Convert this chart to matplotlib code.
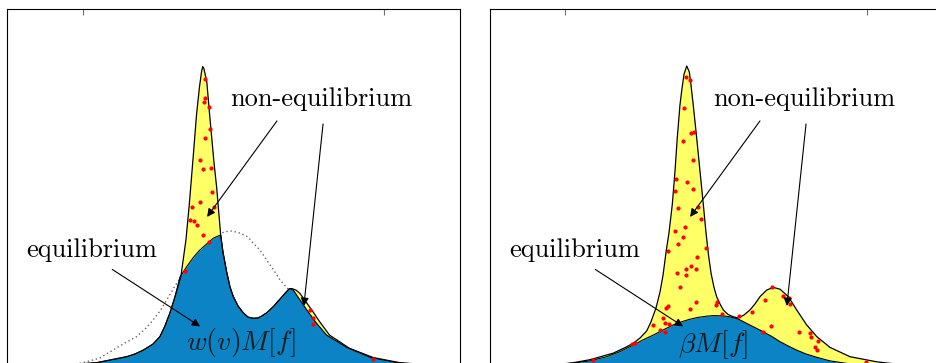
import numpy as np
import matplotlib.pyplot as plt

plt.rcParams['mathtext.fontset'] = 'cm'

YELLOW = '#ffff66'
BLUE = '#0b83c5'

# ---- left panel: f, Maxwellian M and the weighted part w(v)M[f]
x_f1 = [-1.5, -1.149, -0.906, -0.707, -0.652, -0.597, -0.533, -0.487, -0.454, -0.421,
        -0.387, -0.348, -0.315,
        -0.293, -0.266, -0.245, -0.226, -0.212, -0.204, -0.197, -0.177, -0.162, -0.144,
        -0.129, -0.111, -0.099, -0.085, -0.070, -0.045, -0.023, -0.001, 0.030, 0.065,
        0.096, 0.131, 0.162, 0.189, 0.222, 0.264, 0.308, 0.352, 0.371, 0.387,
        0.414, 0.440, 0.518, 0.570, 0.636, 0.768, 0.926, 1.103, 1.235, 1.401, 1.5]
f1 = [0.0, 0.002, 0.011, 0.031, 0.040, 0.053, 0.073, 0.098, 0.133, 0.177,
      0.231, 0.300, 0.420,
      0.537, 0.703, 0.837, 0.927, 0.980, 0.998, 0.993, 0.948, 0.860, 0.760,
      0.677, 0.593, 0.520, 0.437, 0.380, 0.313, 0.263, 0.231, 0.200, 0.177,
      0.163, 0.159, 0.160, 0.167, 0.178, 0.198, 0.223, 0.248, 0.258, 0.258,
      0.253, 0.242, 0.187, 0.148, 0.103, 0.059, 0.028, 0.011, 0.006, 0.002, 0.0]

x_w1 = [-1.5, -1.149, -0.906, -0.707, -0.652, -0.597, -0.533, -0.487, -0.454, -0.421,
        -0.387, -0.354, -0.310,
        -0.266, -0.222, -0.177, -0.134, -0.085, -0.070, -0.045, -0.023, -0.001, 0.030,
        0.065, 0.096, 0.131, 0.162, 0.189, 0.222, 0.264, 0.308, 0.352, 0.371,
        0.396, 0.485, 0.551, 0.617, 0.750, 0.904, 1.081, 1.301, 1.5]
w1 = [0.0, 0.002, 0.011, 0.031, 0.040, 0.053, 0.073, 0.098, 0.133, 0.177,
      0.231, 0.297, 0.331,
      0.362, 0.387, 0.407, 0.426, 0.437, 0.380, 0.313, 0.263, 0.231, 0.200,
      0.177, 0.163, 0.159, 0.160, 0.167, 0.178, 0.198, 0.223, 0.248, 0.258,
      0.253, 0.187, 0.142, 0.103, 0.062, 0.029, 0.011, 0.003, 0.0]

x_m1 = [-1.5, -1.281, -1.084, -0.972, -0.884, -0.798, -0.719, -0.641, -0.586, -0.533,
        -0.487, -0.442, -0.387, -0.321, -0.255, -0.189, -0.123, -0.056, -0.010, 0.043,
        0.096, 0.129, 0.175, 0.220, 0.262, 0.308, 0.361, 0.407, 0.473, 0.573,
        0.705, 0.838, 0.970, 1.169, 1.5]
m1 = [0.0, 0.0, 0.003, 0.014, 0.027, 0.053, 0.077, 0.098, 0.123, 0.153,
      0.183, 0.220, 0.267, 0.320, 0.367, 0.407, 0.433, 0.448, 0.450, 0.443,
      0.430, 0.410, 0.387, 0.353, 0.323, 0.287, 0.257, 0.227, 0.173, 0.107,
      0.053, 0.023, 0.010, 0.002, 0.0]

dots1_x = [-0.189, -0.191, -0.195, -0.164, -0.158, -0.191, -0.224, -0.204, -0.151, -0.140,
           -0.220, -0.277, -0.129, -0.286, -0.264, -0.244, -0.200, -0.160, -0.323,
           0.507, 0.525, 0.528, 0.926]
dots1_y = [0.957, 0.894, 0.880, 0.864, 0.791, 0.761, 0.687, 0.658, 0.661, 0.580,
           0.548, 0.529, 0.531, 0.487, 0.484, 0.469, 0.437, 0.414, 0.318,
           0.187, 0.161, 0.139, 0.023]

# ---- right panel: f and beta*M[f]
x_f2 = [-1.5, -1.301, -1.103, -0.948, -0.838, -0.683, -0.599, -0.551, -0.507, -0.462,
        -0.434, -0.401, -0.374, -0.354, -0.334, -0.315, -0.293, -0.275, -0.260, -0.242,
        -0.228, -0.215, -0.197, -0.180, -0.169, -0.154, -0.131, -0.109, -0.087, -0.070,
        -0.053, -0.036, -0.017, 0.001, 0.023, 0.045, 0.076, 0.111, 0.144, 0.182,
        0.222, 0.255, 0.288, 0.332, 0.376, 0.421, 0.476, 0.531, 0.597, 0.664,
        0.752, 0.884, 1.061, 1.215, 1.5]
f2 = [0.0, 0.001, 0.002, 0.011, 0.021, 0.043, 0.063, 0.076, 0.093, 0.117,
      0.147, 0.193, 0.247, 0.303, 0.380, 0.443, 0.537, 0.648, 0.759, 0.870,
      0.927, 0.973, 1.000, 0.980, 0.937, 0.870, 0.759, 0.648, 0.537, 0.447,
      0.370, 0.309, 0.263, 0.231, 0.207, 0.187, 0.172, 0.164, 0.160, 0.170,
      0.187, 0.207, 0.231, 0.253, 0.262, 0.256, 0.231, 0.187, 0.137, 0.098,
      0.062, 0.031, 0.014, 0.005, 0.0]

x_b2 = [-1.5, -1.136, -1.036, -0.948, -0.838, -0.727, -0.639, -0.551, -0.487, -0.419,
        -0.354, -0.286, -0.228, -0.175, -0.123, -0.065, -0.021, 0.045, 0.089, 0.142,
        0.200, 0.255, 0.310, 0.368, 0.421, 0.474, 0.531, 0.593, 0.664, 0.752,
        0.884, 1.017, 1.5]
b2 = [0.0, 0.001, 0.005, 0.010, 0.017, 0.031, 0.048, 0.070, 0.087, 0.103,
      0.120, 0.137, 0.148, 0.156, 0.162, 0.166, 0.168, 0.167, 0.164, 0.157,
      0.142, 0.128, 0.114, 0.098, 0.081, 0.067, 0.053, 0.040, 0.029, 0.017,
      0.007, 0.002, 0.0]

dots2_x = [-0.204, -0.175, -0.213, -0.169, -0.147, -0.222, -0.156, -0.270, -0.193, -0.277,
           -0.156, -0.257, -0.123, -0.101, -0.209, -0.275, -0.224, -0.253, -0.072, -0.319,
           -0.127, -0.204, -0.167, -0.138, -0.260, -0.202, -0.244, -0.136, 0.005, -0.003,
           -0.319, -0.334, -0.174, 0.034, 0.147, 0.235, 0.321, 0.366, 0.438, 0.482,
           0.487, -0.423, -0.352, -0.343, -0.317, -0.372, -0.339, 0.310, 0.359, 0.544,
           0.619, 0.624, 0.672, 0.650, 0.664, -0.558, -0.540, -0.816, 0.988]
dots2_y = [0.964, 0.953, 0.859, 0.778, 0.781, 0.750, 0.687, 0.623, 0.613, 0.584,
           0.590, 0.528, 0.529, 0.490, 0.463, 0.451, 0.429, 0.406, 0.392, 0.383,
           0.362, 0.322, 0.334, 0.322, 0.310, 0.302, 0.262, 0.212, 0.212, 0.202,
           0.201, 0.192, 0.189, 0.173, 0.166, 0.180, 0.221, 0.264, 0.233, 0.228,
           0.207, 0.137, 0.159, 0.142, 0.139, 0.120, 0.113, 0.114, 0.134, 0.112,
           0.109, 0.098, 0.083, 0.064, 0.052, 0.073, 0.076, 0.020, 0.012]

labels = ['non-equilibrium', 'equilibrium']


def setup(ax):
    ax.set_xlim(-1.5, 1.5)
    ax.set_ylim(-0.05, 1.19)
    ax.set_xticks([-1, 1])
    ax.set_yticks([])
    ax.tick_params(axis='x', direction='in', top=True, bottom=True,
                   labelbottom=False, length=4, width=0.8, color='0.45')
    for s in ax.spines.values():
        s.set_linewidth(0.8)


def annotate(ax, eq_label):
    ax.text(-0.025, 0.867, labels[0], fontfamily='cmr10', fontsize=19, va='baseline')
    ax.text(-1.374, 0.364, labels[1], fontfamily='cmr10', fontsize=19, va='baseline')
    arrows = [((0.288, 0.817), (-0.175, 0.497)),
              ((0.593, 0.807), (0.466, 0.200)),
              ((-0.803, 0.322), (-0.221, 0.132))]
    for start, end in arrows:
        ax.annotate('', xy=end, xytext=start,
                    arrowprops=dict(arrowstyle='-|>', lw=0.8, color='k',
                                    shrinkA=0, shrinkB=0, mutation_scale=12),
                    zorder=6)
    ax.text(eq_label[1], eq_label[2], eq_label[0], fontsize=20, ha='center',
            va='center', color='#1a1a1a', zorder=6)


fig = plt.figure(figsize=(9.37, 3.63), dpi=100)
ax1 = fig.add_axes([7 / 937, -0.0496, 453 / 937, 1.0248])
ax2 = fig.add_axes([490 / 937, -0.0496, 453 / 937, 1.0248])

# left
ax1.plot(x_m1, m1, color='0.4', lw=1.0, linestyle=(0, (1, 2)), zorder=1)
ax1.fill_between(x_f1, f1, 0, color=YELLOW, lw=0, zorder=2)
ax1.fill_between(x_w1, w1, 0, color=BLUE, lw=0, zorder=3)
ax1.plot(x_f1, f1, color='k', lw=0.9, zorder=4)
ax1.plot(x_w1, w1, color='k', lw=0.8, zorder=4)
ax1.scatter(dots1_x, dots1_y, s=9, color='red', lw=0, zorder=5)
setup(ax1)
annotate(ax1, (r'$w(v)M[f]$', 0.046, 0.077))

# right
ax2.fill_between(x_f2, f2, 0, color=YELLOW, lw=0, zorder=2)
ax2.fill_between(x_b2, b2, 0, color=BLUE, lw=0, zorder=3)
ax2.plot(x_f2, f2, color='k', lw=0.9, zorder=4)
ax2.plot(x_b2, b2, color='k', lw=0.8, zorder=4)
ax2.scatter(dots2_x, dots2_y, s=9, color='red', lw=0, zorder=5)
setup(ax2)
annotate(ax2, (r'$\beta M[f]$', -0.021, 0.070))

fig.savefig('out.png', dpi=100)
